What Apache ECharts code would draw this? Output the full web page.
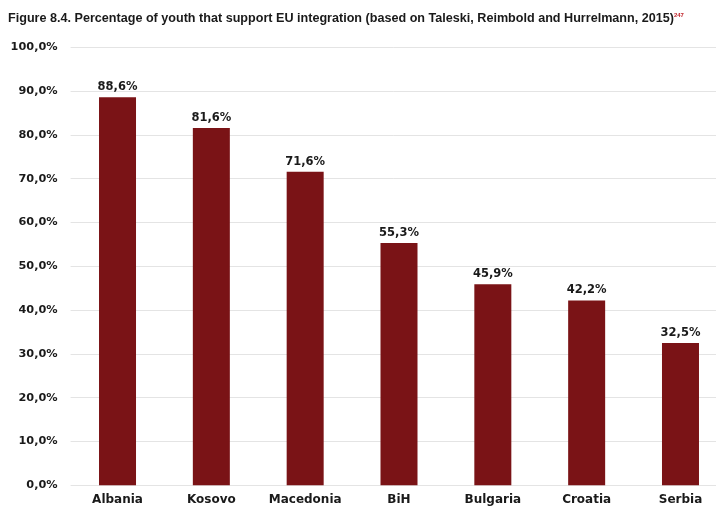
<!DOCTYPE html>
<html><head><meta charset="utf-8">
<script src="https://cdn.jsdelivr.net/npm/echarts@6/dist/echarts.min.js"></script>
<style>html,body{margin:0;padding:0;background:#fff}#c{width:716px;height:506px}</style>
</head><body><div id="c"></div>
<script>
const titleText = "Figure 8.4. Percentage of youth that support EU integration (based on Taleski, Reimbold and Hurrelmann, 2015)";
const titleNote = "247";
const categories = ["Albania","Kosovo","Macedonia","BiH","Bulgaria","Croatia","Serbia"];
const support = [88.6,81.6,71.6,55.3,45.9,42.2,32.5];
const yTicks = {min:0,max:100,interval:10};

const fmt = v => v.toFixed(1).replace('.', ',') + '%';
const chart = echarts.init(document.getElementById('c'));
chart.setOption({
  animation:false,
  backgroundColor:'#fff',
  title:{
    text:'{t|'+titleText+'}{s|'+titleNote+'}',
    left:3, top:7,
    textStyle:{rich:{
      t:{fontFamily:'Liberation Sans',fontWeight:'bold',fontSize:12.6,color:'#1a1a1a'},
      s:{fontFamily:'Liberation Sans',fontWeight:'bold',fontSize:6,color:'#c0272d',verticalAlign:'top',padding:[0,0,6,0]}
    }}
  },
  grid:{left:70.6,width:656.8,top:47.3,bottom:20.7,containLabel:false,outerBoundsMode:'none'},
  xAxis:{
    type:'category',data:categories,
    axisLine:{show:false},axisTick:{show:false},
    axisLabel:{interval:0,margin:9,color:'#1a1a1a',fontFamily:'DejaVu Sans',fontWeight:'bold',fontSize:12}
  },
  yAxis:{
    type:'value',min:yTicks.min,max:yTicks.max,interval:yTicks.interval,
    axisLine:{show:false},axisTick:{show:false},
    splitLine:{lineStyle:{color:'#e4e4e4',width:1}},
    axisLabel:{margin:13,color:'#1a1a1a',fontFamily:'DejaVu Sans',fontWeight:'bold',fontSize:11.3,formatter:v=>fmt(v)}
  },
  series:[{
    type:'bar',data:support,barWidth:37,
    itemStyle:{color:'#7a1316'},
    label:{show:true,position:'top',distance:4,color:'#1a1a1a',fontFamily:'DejaVu Sans',fontWeight:'bold',fontSize:11.5,formatter:p=>fmt(p.value)}
  }]
});
</script></body></html>
